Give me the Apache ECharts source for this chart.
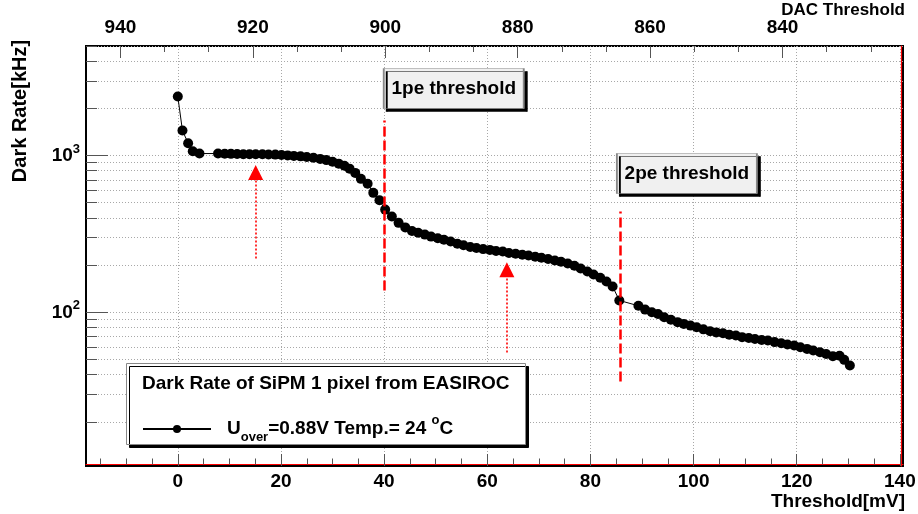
<!DOCTYPE html>
<html><head><meta charset="utf-8">
<script src="https://cdn.jsdelivr.net/npm/echarts@6/dist/echarts.min.js"></script>
<style>html,body{margin:0;padding:0;background:#fff}#c{width:918px;height:514px}</style>
</head><body><div id="c"></div>
<script>
// ---- data ----
const thresholds = [0,0.9,2.0,2.9,4.2,7.8,9.1,10.3,11.5,12.7,
  13.9,15.1,16.4,17.6,18.9,20.1,21.3,22.5,23.8,25.0,
  26.3,27.6,28.8,30.0,31.2,32.3,33.3,34.4,35.5,36.8,
  37.9,39.1,40.2,41.5,42.8,44.1,45.4,46.6,47.9,49.1,
  50.4,51.6,52.9,54.2,55.4,56.7,57.9,59.2,60.5,61.7,
  63.0,64.2,65.5,66.8,68.0,69.3,70.5,71.8,73.1,74.3,
  75.6,76.9,78.1,79.4,80.6,81.9,83.1,84.3,85.6,89.3,
  90.6,91.9,93.1,94.3,95.6,96.9,98.1,99.4,100.6,101.9,
  103.2,104.4,105.7,106.9,108.2,109.4,110.7,111.9,113.2,114.4,
  115.7,117.0,118.2,119.5,120.7,122.0,123.2,124.5,125.7,127.0,
  128.3,129.2,130.3];
const rates = [2380,1445,1198,1065,1030,1030,1028,1025,1022,1020,
  1020,1018,1018,1016,1014,1008,1002,995,988,980,
  968,952,935,912,888,860,825,775,710,660,
  578,518,452,408,372,348,330,322,313,304,
  297,290,283,274,268,261,257,253,250,246,
  244,239,236,233,230,226,223,219,214,210,
  205,198,190,182,174,166,157,146,119,110,
  104,100,97.5,93,89.5,86.5,84.3,82.2,80.2,77.8,
  75.6,74.4,73.4,72.0,71.0,69.4,68.6,67.6,66.6,66.0,
  64.5,63.4,62.2,61.3,59.8,58.4,57.0,55.6,54.2,52.5,
  52.8,49.7,45.7];

const xMajorTicks = [0,20,40,60,80,100,120,140];
const xMinorTicks = [-15,-10,-5,5,10,15,25,30,35,45,50,55,65,70,75,85,90,95,105,110,115,125,130,135];
const dacMajorTicks = [940,920,900,880,860,840];
const dacMinorTicks = [933.33,926.67,913.33,906.67,893.33,886.67,873.33,866.67,853.33,846.67,833.33,826.67];
const yMajorTicks = [100,1000];
const yMinorTicks = [20,30,40,50,60,70,80,90,200,300,400,500,600,700,800,900,2000,3000,4000,5000];

// annotations (data coordinates)
const thresholdLines = [ {x:40, from:137.5, to:1673}, {x:85.7, from:36.1, to:439} ];
const arrows = [ {x:15.1, from:220, to:779}, {x:63.8, from:55.3, to:187} ];
const labelBoxes = [ {name:'1pe threshold', x:53.5, y:2677}, {name:'2pe threshold', x:98.7, y:767} ];

const seriesName = 'Uover=0.88V Temp.= 24 oC';
const legendTitle = 'Dark Rate of SiPM 1 pixel from EASIROC';
const yTitle = 'Dark Rate[kHz]';

// ---- chart ----
const FONT = '"Liberation Sans", Arial, Helvetica, sans-serif';
const X_MIN = -17.8, X_MAX = 140.6, DAC_MIN = 821.8, DAC_MAX = 945.2, Y_MIN = 10.45, Y_MAX = 5000;
const RED = '#ff0000';
const gridLine = {show:true, lineStyle:{color:'#a8a8a8', type:[1,2], width:1}};
const tickStyle = {color:'#555', width:1};
const lbl = {fontFamily:FONT, fontWeight:'bold', fontSize:19, color:'#000'};
const noLine = {show:false, onZero:false};

const chart = echarts.init(document.getElementById('c'), null, {renderer:'canvas'});

const markLineData = [];
thresholdLines.forEach(t => {
  const ls = {color:RED, width:2.5, type:[10,4]};
  markLineData.push([{coord:[t.x, t.from], symbol:'none', lineStyle:ls}, {coord:[t.x, t.to], symbol:'none', lineStyle:ls}]);
});
arrows.forEach(a => {
  const ls = {color:RED, width:1.6, type:[2,2]};
  markLineData.push([{coord:[a.x, a.from], symbol:'none', lineStyle:ls}, {coord:[a.x, a.to], symbol:'triangle', symbolSize:15, lineStyle:ls}]);
});

const option = {
  animation:false,
  backgroundColor:'#fff',
  grid:{left:86, right:15, top:46, bottom:48, show:true, borderColor:'#000', borderWidth:2, backgroundColor:'transparent', containLabel:false, outerBoundsMode:'none'},
  title:{
    text:legendTitle, left:126, top:363, padding:[11,16,52,16],
    backgroundColor:'#fff', borderColor:'#888', borderWidth:1,
    shadowColor:'#000', shadowOffsetX:3, shadowOffsetY:3, shadowBlur:0,
    textStyle:Object.assign({}, lbl), z:5
  },
  graphic:[{
    type:'text', x:20, y:111, rotation:Math.PI/2, silent:true,
    style:{text:yTitle, font:'bold 20px ' + FONT, fill:'#000', align:'center', verticalAlign:'middle'}
  }],
  legend:{
    data:[seriesName], left:142, top:414, padding:0, itemWidth:68, itemHeight:10, z:10,
    selectedMode:false,
    formatter:() => '{t|U}{sub|over}{t|=0.88V Temp.= 24 }{sup|o}{t|C}',
    textStyle:{fontFamily:FONT, fontWeight:'bold', fontSize:19, color:'#000', padding:[0,0,0,11],
      rich:{
        t:{fontFamily:FONT, fontWeight:'bold', fontSize:19, color:'#000', lineHeight:30},
        sub:{fontFamily:FONT, fontWeight:'bold', fontSize:13, color:'#000', lineHeight:14, verticalAlign:'bottom'},
        sup:{fontFamily:FONT, fontWeight:'bold', fontSize:13, color:'#000', lineHeight:14, verticalAlign:'top'}
      }}
  },
  xAxis:[
    { type:'value', position:'bottom', min:X_MIN, max:X_MAX,
      axisLine:noLine,
      axisTick:{show:true, inside:true, length:12, customValues:xMajorTicks, lineStyle:tickStyle},
      axisLabel:Object.assign({customValues:xMajorTicks, margin:6}, lbl),
      splitLine:gridLine,
      name:'Threshold[mV]', nameLocation:'end', nameGap:2, nameMoveOverlap:false,
      nameTextStyle:Object.assign({align:'right', verticalAlign:'top', padding:[26,0,0,0]}, lbl)
    },
    { type:'value', position:'bottom', min:X_MIN, max:X_MAX, offset:-1.5,
      axisLine:{show:true, onZero:false, lineStyle:{color:RED, width:1.2}},
      axisTick:{show:true, inside:true, length:6, customValues:xMinorTicks, lineStyle:tickStyle},
      axisLabel:{show:false}, splitLine:{show:false}
    },
    { type:'value', position:'top', inverse:true, min:DAC_MIN, max:DAC_MAX,
      axisLine:noLine,
      axisTick:{show:true, inside:true, length:12, customValues:dacMajorTicks, lineStyle:tickStyle},
      axisLabel:Object.assign({customValues:dacMajorTicks, margin:9}, lbl),
      splitLine:{show:false},
      name:'DAC Threshold', nameLocation:'start', nameGap:2, nameMoveOverlap:false,
      nameTextStyle:Object.assign({}, lbl, {fontSize:17, align:'right', verticalAlign:'bottom', padding:[0,0,27,0]})
    },
    { type:'value', position:'top', inverse:true, min:DAC_MIN, max:DAC_MAX,
      axisLine:noLine,
      axisTick:{show:true, inside:true, length:6, customValues:dacMinorTicks, lineStyle:tickStyle},
      axisLabel:{show:false}, splitLine:{show:false}
    }
  ],
  yAxis:[
    { type:'log', logBase:10, position:'left', min:Y_MIN, max:Y_MAX,
      axisLine:noLine,
      axisTick:{show:true, inside:true, length:22, customValues:yMajorTicks, lineStyle:tickStyle},
      axisLabel:{customValues:yMajorTicks, margin:6,
        formatter:v => '{b|10}{s|' + Math.round(Math.log10(v)) + '}',
        rich:{
          b:{fontFamily:FONT, fontWeight:'bold', fontSize:19, color:'#000', lineHeight:26},
          s:{fontFamily:FONT, fontWeight:'bold', fontSize:13, color:'#000', lineHeight:13, verticalAlign:'top'}
        }},
      splitLine:gridLine
    },
    { type:'log', logBase:10, position:'left', min:Y_MIN, max:Y_MAX,
      axisLine:noLine,
      axisTick:{show:true, inside:true, length:11, customValues:yMinorTicks, lineStyle:tickStyle},
      axisLabel:{show:false}, splitLine:gridLine
    },
    { type:'log', logBase:10, position:'right', min:Y_MIN, max:Y_MAX, offset:-1.5,
      axisLine:{show:true, onZero:false, lineStyle:{color:RED, width:1.2}},
      axisTick:{show:false}, axisLabel:{show:false}, splitLine:{show:false}
    }
  ],
  series:[{
    name:seriesName, type:'line', xAxisIndex:0, yAxisIndex:0,
    data:thresholds.map((x,i) => [x, rates[i]]),
    symbol:'circle', symbolSize:10, showSymbol:true,
    itemStyle:{color:'#000'}, lineStyle:{color:'#000', width:1}, z:3,
    markLine:{silent:true, symbol:['none','none'], z:4, label:{show:false}, data:markLineData},
    markPoint:{
      silent:true, symbol:'rect', symbolSize:[140,40], z:5,
      itemStyle:{color:'#f0f0f0', borderColor:'#888', borderWidth:1, shadowColor:'#000', shadowOffsetX:3, shadowOffsetY:3, shadowBlur:0},
      label:{show:true, position:'inside', formatter:'{b}', fontFamily:FONT, fontWeight:'bold', fontSize:19, color:'#000'},
      data:labelBoxes.map(b => ({name:b.name, coord:[b.x, b.y]}))
    }
  }]
};
chart.setOption(option);
</script></body></html>
